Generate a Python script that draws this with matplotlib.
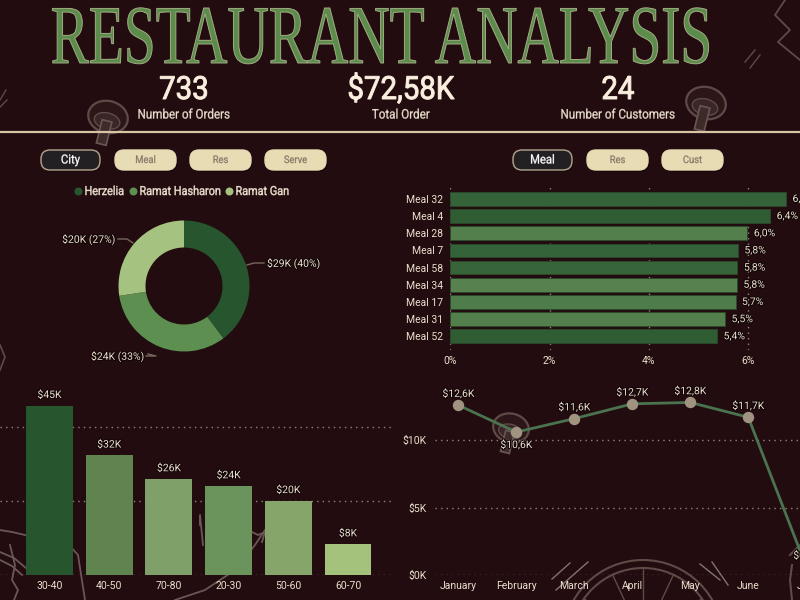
import numpy as np
import matplotlib
matplotlib.use('Agg')
import matplotlib.pyplot as plt
import matplotlib.patheffects as pe
from matplotlib.patches import Circle, Ellipse, FancyBboxPatch, Arc, Rectangle
from matplotlib.transforms import Affine2D

# data
kpi_values = ['733', '$72,58K', '24']
kpi_names = ['Number of Orders', 'Total Order', 'Number of Customers']

cities = ['Herzelia', 'Ramat Hasharon', 'Ramat Gan']
city_sales = [29, 24, 20]
city_labels = ['$29K (40%)', '$24K (33%)', '$20K (27%)']

meals = ['Meal 32', 'Meal 4', 'Meal 28', 'Meal 7', 'Meal 58', 'Meal 34', 'Meal 17', 'Meal 31', 'Meal 52']
meal_share = [6.77, 6.45, 5.99, 5.80, 5.79, 5.78, 5.75, 5.54, 5.38]
meal_labels = ['6,8%', '6,4%', '6,0%', '5,8%', '5,8%', '5,8%', '5,7%', '5,5%', '5,4%']

age_groups = ['30-40', '40-50', '70-80', '20-30', '50-60', '60-70']
age_sales = [45.7, 32.3, 25.9, 24.0, 20.0, 8.3]
age_labels = ['$45K', '$32K', '$26K', '$24K', '$20K', '$8K']

months = ['January', 'February', 'March', 'April', 'May', 'June', 'July']
month_sales = [12.6, 10.6, 11.6, 12.7, 12.8, 11.7, 0.6]
month_labels = ['$12,6K', '$10,6K', '$11,6K', '$12,7K', '$12,8K', '$11,7K', '$0,6K']

# colours
BG = '#220c0f'
TXT = '#eadfce'
GRID = '#94847c'
DOODLE = '#5f4a48'
city_colors = ['#27552e', '#5c8f50', '#a5c280']
meal_colors = ['#356339', '#2f5c33', '#537f4d', '#356339', '#376539', '#578250', '#4e7c4a', '#537f4d', '#2f5c33']
age_colors = ['#27552e', '#5f8450', '#7fa068', '#6b935c', '#86a56b', '#a5c27d']

plt.rcParams['font.family'] = ['Roboto', 'DejaVu Sans']
fig = plt.figure(figsize=(8, 6), dpi=100, facecolor=BG)
shadow = [pe.withStroke(linewidth=1.5, foreground='#120507')]
DOTS = (0, (1, 3))
SMALL = 7.5


class Squeeze(pe.AbstractPathEffect):
    # narrows the glyphs of a text around x0 (display pixels), then fills and outlines
    def __init__(self, sx, x0, edge, lw):
        super().__init__()
        self.sx, self.x0, self.edge, self.lw = sx, x0, edge, lw

    def draw_path(self, renderer, gc, tpath, affine, rgbFace):
        tr = affine + Affine2D().translate(-self.x0, 0).scale(self.sx, 1).translate(self.x0, 0)
        gc0 = renderer.new_gc()
        gc0.copy_properties(gc)
        gc0.set_foreground(self.edge)
        gc0.set_linewidth(self.lw)
        renderer.draw_path(gc0, tpath, tr, rgbFace)
        gc0.restore()


def axes_px(left, top, right, bottom):
    return fig.add_axes([left/800, 1-bottom/600, (right-left)/800, (bottom-top)/600], facecolor='none')


# background layer in pixel coordinates
bg = fig.add_axes([0, 0, 1, 1], facecolor='none')
bg.set_xlim(0, 800)
bg.set_ylim(600, 0)
bg.axis('off')


def mushroom(x, y, s, angle):
    tr = Affine2D().rotate_deg_around(x, y, angle) + bg.transData
    bg.add_patch(Ellipse((x, y), 40*s, 32*s, fc='#2c1618', ec=DOODLE, lw=1.6, transform=tr))
    bg.add_patch(Ellipse((x, y+4*s), 26*s, 16*s, fc='#3a2626', ec=DOODLE, lw=1, transform=tr))
    bg.add_patch(Rectangle((x-5*s, y+4*s), 10*s, 24*s, fc='#3d2b2a', ec='#6a5552', lw=1.2, transform=tr))


mushroom(108, 117, 1, 14)
mushroom(706, 103, 1, 14)
mushroom(511, 428, 0.9, 14)

# citrus slice, bottom right
for r in [80, 72]:
    bg.add_patch(Arc((643, 640), 2*r, 2*r, theta1=180, theta2=360, ec=DOODLE, lw=1.5))
for a in np.radians([215, 245, 270, 295, 325]):
    bg.plot([643, 643+72*np.cos(a)], [640, 640+72*np.sin(a)], color=DOODLE, lw=1)
for xs, ys in [([552, 570], [579, 563]), ([556, 588], [590, 562]), ([700, 720], [564, 580]), ([712, 728], [562, 585])]:
    bg.plot(xs, ys, color='#84726f', lw=1)
bg.plot([790, 800], [555, 545], color=DOODLE, lw=1.5)
bg.plot([792, 790, 792], [600, 580, 565], color=DOODLE, lw=1.5)

# food sketch, bottom left and centre
for xs, ys in [([0, 12, 25, 45, 60, 78, 85], [530, 532, 535, 540, 535, 555, 600]),
               ([10, 15, 12, 18, 14], [545, 565, 580, 590, 600]),
               ([0, 14, 26], [552, 558, 568]),
               ([0, 12, 22], [560, 566, 575]),
               ([175, 205, 235, 255, 265], [600, 590, 570, 545, 530]),
               ([200, 200, 203], [525, 515, 545]),
               ([248, 258, 265, 262], [530, 535, 532, 542])]:
    bg.plot(xs, ys, color='#6b5755', lw=1.3)
bg.plot([0, 5, 0], [345, 357, 370], color=DOODLE, lw=1.2)
bg.plot([0, 6], [100, 90], color=DOODLE, lw=1)
bg.plot([0, 7], [107, 100], color=DOODLE, lw=1)
bg.plot([745, 755], [62, 50], color=DOODLE, lw=1)
bg.plot([750, 760], [68, 55], color=DOODLE, lw=1)
bg.plot([785, 775, 790, 778, 800], [0, 15, 30, 42, 60], color=DOODLE, lw=1.3)

# title, kpis and separator
title = bg.text(381.5, 63, 'RESTAURANT ANALYSIS', family='Liberation Serif', fontsize=60,
                color='#5b8c4b', ha='center', va='baseline')
title.set_path_effects([Squeeze(0.687, 381.5, '#a3ac84', 0.7)])

kpi_x = [184, 401, 618]
for x, v, n in zip(kpi_x, kpi_values, kpi_names):
    bg.text(x, 99, v, fontsize=23, color='#fbf0df', ha='center', va='baseline',
            path_effects=[Squeeze(0.92, x, '#fbf0df', 0.7)])
    bg.text(x, 115, n, fontsize=9.5, color=TXT, ha='center', va='center',
            path_effects=[Squeeze(0.88, x, TXT, 0.2)])
bg.plot([0, 800], [132, 132], color='#d8c3a5', lw=1.6)


def button(x0, x1, label, active=False):
    fc, ec, col, fs = ('#232024', '#b5a78c', 'white', 9) if active else ('#e8dcb5', '#e8dcb5', '#8a7a6a', 7.5)
    bg.add_patch(FancyBboxPatch((x0+9, 159), x1-x0-18, 2, boxstyle='round,pad=9,rounding_size=9', fc='#0f0405',
                                ec='none', alpha=0.6, transform=Affine2D().translate(1.5, 2) + bg.transData))
    bg.add_patch(FancyBboxPatch((x0+9, 159), x1-x0-18, 2, boxstyle='round,pad=9,rounding_size=9', fc=fc, ec=ec, lw=1))
    cx = (x0+x1)/2
    bg.text(cx, 160, label, color=col, fontsize=fs, ha='center', va='center',
            path_effects=[Squeeze(0.9, cx, col, 0.2)])


button(41, 100, 'City', True)
button(115, 176, 'Meal')
button(190, 251, 'Res')
button(265, 326, 'Serve')
button(513, 572, 'Meal', True)
button(587, 648, 'Res')
button(662, 723, 'Cust')

# legend of the donut
for x, c, name in zip([78.5, 133.5, 229.5], city_colors, cities):
    bg.add_patch(Circle((x, 191.5), 4, fc=c, ec='none'))
    bg.text(x+6, 191.5, name, color=TXT, fontsize=9, ha='left', va='center',
            path_effects=[Squeeze(0.87, x+6, TXT, 0.3)])

# donut
ax_d = axes_px(184-65.5, 286-65.5, 184+65.5, 286+65.5)
ax_d.pie(city_sales, colors=city_colors, startangle=90, counterclock=False, radius=1,
         wedgeprops=dict(width=27/65.5, linewidth=0))
ax_d.set_xlim(-1, 1)
ax_d.set_ylim(-1, 1)
for i, (lab, xs, ys, tx, ha) in enumerate(zip(city_labels,
                                              [[247, 254, 264], [148, 156, 146], [133, 127, 118]],
                                              [[265, 263, 263], [354, 356, 356], [243, 239, 239]],
                                              [267, 144, 115], ['left', 'right', 'right'])):
    bg.plot(xs, ys, color='#77665f', lw=1)
    bg.text(tx, ys[-1]+0.5, lab, color=TXT, fontsize=SMALL, ha=ha, va='center', path_effects=shadow)

# meals
ax_m = axes_px(450.3, 185, 800, 350)
ypos = np.arange(len(meals))
ax_m.barh(ypos, meal_share, height=0.79, color=meal_colors, edgecolor='#2a4a2c', linewidth=0.6, zorder=2)
ax_m.set_xlim(0, 349.7/49.6)
ax_m.set_ylim(len(meals)-1+0.8, -0.81)
ax_m.set_xticks([0, 2, 4, 6])
ax_m.set_xticklabels(['0%', '2%', '4%', '6%'])
ax_m.set_yticks(ypos)
ax_m.set_yticklabels(meals)
ax_m.tick_params(length=0, colors=TXT, labelsize=SMALL, pad=5)
ax_m.tick_params(axis='x', pad=4)
ax_m.grid(axis='x', color=GRID, ls=DOTS, lw=1, zorder=0)
for s in ax_m.spines.values():
    s.set_visible(False)
for v, lab, y in zip(meal_share, meal_labels, ypos):
    ax_m.text(v+0.13, y, lab, color=TXT, fontsize=SMALL, va='center', path_effects=shadow)

# age groups
ax_a = axes_px(0, 385, 395, 575)
xpos = np.arange(len(age_groups))
ax_a.bar(xpos, age_sales, width=0.785, color=age_colors, zorder=2)
ax_a.set_xlim(-49.5/59.7, (395-49.5)/59.7)
ax_a.set_ylim(0, 190/3.7)
ax_a.set_xticks(xpos)
ax_a.set_xticklabels(age_groups)
ax_a.set_yticks([0, 20, 40])
ax_a.tick_params(axis='x', length=0, colors=TXT, labelsize=SMALL, pad=4)
ax_a.tick_params(axis='y', length=0, labelleft=False)
ax_a.grid(axis='y', color=GRID, ls=DOTS, lw=1, zorder=0)
for s in ax_a.spines.values():
    s.set_visible(False)
for x, v, lab in zip(xpos, age_sales, age_labels):
    ax_a.text(x, v+1.6, lab, color=TXT, fontsize=SMALL, ha='center', va='bottom', path_effects=shadow)

# months, the axes run past the right edge so July is cut like in the original
ax_l = axes_px(435, 385, 830, 575)
mpos = np.arange(len(months))
ax_l.plot(mpos, month_sales, color='#4a7350', lw=2, marker='o', ms=7.2, mfc='#a09480', mec='#a09480',
          zorder=3, clip_on=False)
ax_l.set_xlim(-23.3/58, (830-458.3)/58)
ax_l.set_ylim(0, 190/13.48)
ax_l.set_xticks(mpos)
ax_l.set_xticklabels(months)
ax_l.set_yticks([0, 5, 10])
ax_l.set_yticklabels(['$0K', '$5K', '$10K'])
ax_l.tick_params(length=0, colors=TXT, labelsize=SMALL, pad=6)
ax_l.tick_params(axis='x', pad=4)
ax_l.grid(axis='y', color=GRID, ls=DOTS, lw=1, zorder=0)
ax_l.grid(axis='x', visible=False)
for s in ax_l.spines.values():
    s.set_visible(False)
for i, (x, v, lab) in enumerate(zip(mpos, month_sales, month_labels)):
    below = i == 1
    ax_l.annotate(lab, (x, v), xytext=(0, -5 if below else 4.5), textcoords='offset points', color=TXT,
                  fontsize=SMALL, ha='center', va='top' if below else 'bottom', path_effects=shadow)

fig.savefig('out.png', dpi=100, facecolor=BG)
